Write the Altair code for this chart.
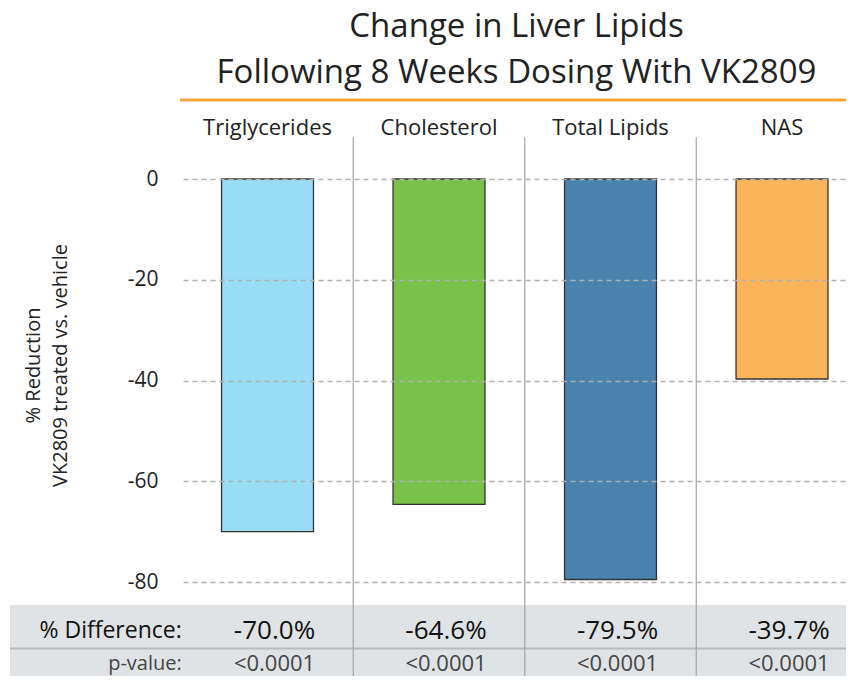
import altair as alt
import pandas as pd

categories = ["Triglycerides", "Cholesterol", "Total Lipids", "NAS"]
values = [-70.0, -64.6, -79.5, -39.7]
diff_labels = ["-70.0%", "-64.6%", "-79.5%", "-39.7%"]
p_values = ["<0.0001", "<0.0001", "<0.0001", "<0.0001"]
bar_colors = ["#98dcf6", "#78c24a", "#4a83ae", "#fcb45a"]
y_ticks = [0, -20, -40, -60, -80]
row_labels = ["% Difference:", "p-value:"]
title_lines = ["Change in Liver Lipids", "Following 8 Weeks Dosing With VK2809"]
y_title = ["% Reduction", "VK2809 treated vs. vehicle"]

FONT = "Open Sans"
HALF = 0.268
X_DOM = [-0.4927, 3.373]
Y_DOM = [-80, 0]
DIFF_Y = -89.8
P_Y = -96.3

df = pd.DataFrame({
    "cat": categories,
    "idx": list(range(len(categories))),
    "value": values,
    "diff": diff_labels,
    "p": p_values,
    "color": bar_colors,
})
df["x1"] = df["idx"] - HALF
df["x2"] = df["idx"] + HALF
df["top"] = 0.0
df["head_y"] = 10.1
df["diff_y"] = DIFF_Y
df["p_y"] = P_Y

xs = alt.Scale(domain=X_DOM, nice=False, zero=False)
ys = alt.Scale(domain=Y_DOM, nice=False, zero=False)
yaxis = alt.Axis(
    values=y_ticks, labelExpr="'' + datum.value", title=y_title,
    grid=True, gridDash=[5, 4], gridColor="#b0b0b0", gridWidth=1.3,
    ticks=False, domain=False, labelPadding=25, labelFontSize=21,
    labelFont=FONT, labelColor="#222222", zindex=1,
    titleFont=FONT, titleFontSize=20, titleFontWeight="normal",
    titleColor="#222222", titleAngle=-90, titleAlign="center",
    titleBaseline="top", titleX=-160, titleY=186, titleLineHeight=27,
)

base = alt.Chart(df)

bars = base.mark_rect(stroke="#333333", strokeWidth=1.3).encode(
    x=alt.X("x1:Q", scale=xs, axis=None), x2="x2:Q",
    y=alt.Y("top:Q", scale=ys, axis=yaxis),
    y2="value:Q",
    color=alt.Color("color:N", scale=None),
)

# table background
tbl = pd.DataFrame({"x": [-1.5015], "x2": [3.6], "y": [-84.57], "y2": [-105.0]})
table_bg = alt.Chart(tbl).mark_rect(color="#dfe3e6").encode(
    x=alt.X("x:Q", scale=xs, axis=None), x2="x2:Q",
    y=alt.Y("y:Q", scale=ys, axis=yaxis), y2="y2:Q",
)
sep = pd.DataFrame({"x": [-1.5015], "x2": [3.6], "y": [-93.2]})
row_sep = alt.Chart(sep).mark_rule(color="#b8bcbf", strokeWidth=2).encode(
    x=alt.X("x:Q", scale=xs, axis=None), x2="x2:Q",
    y=alt.Y("y:Q", scale=ys, axis=yaxis),
)

vsep = pd.DataFrame({"x": [0.5, 1.5, 2.5], "y": [8.3] * 3, "y2": [-105.0] * 3})
col_sep = alt.Chart(vsep).mark_rule(color="#a8a8a8", strokeWidth=1.3).encode(
    x=alt.X("x:Q", scale=xs, axis=None),
    y=alt.Y("y:Q", scale=ys, axis=yaxis), y2="y2:Q",
)

headers = base.mark_text(fontSize=22, font=FONT, color="#222222", baseline="middle").encode(
    x=alt.X("idx:Q", scale=xs, axis=None),
    y=alt.Y("head_y:Q", scale=ys, axis=yaxis),
    text="cat:N",
)
diffs = base.mark_text(fontSize=26, font=FONT, color="#111111", baseline="middle", dx=7).encode(
    x=alt.X("idx:Q", scale=xs, axis=None),
    y=alt.Y("diff_y:Q", scale=ys, axis=yaxis),
    text="diff:N",
)
pvals = base.mark_text(fontSize=22, font=FONT, color="#444444", baseline="middle", dx=7).encode(
    x=alt.X("idx:Q", scale=xs, axis=None),
    y=alt.Y("p_y:Q", scale=ys, axis=yaxis),
    text="p:N",
)
rl = pd.DataFrame({"label": row_labels, "x": [-0.5, -0.5], "y": [DIFF_Y, P_Y],
                   "size": [23, 20], "col": ["#111111", "#444444"]})
row_text = alt.Chart(rl).mark_text(font=FONT, align="right", baseline="middle").encode(
    x=alt.X("x:Q", scale=xs, axis=None),
    y=alt.Y("y:Q", scale=ys, axis=yaxis),
    text="label:N",
    size=alt.Size("size:Q", scale=None, legend=None),
    color=alt.Color("col:N", scale=None),
)

ol = pd.DataFrame({"x": [-0.51], "x2": [3.396], "y": [15.7]})
orange = alt.Chart(ol).mark_rule(color="#f7a634", strokeWidth=3).encode(
    x=alt.X("x:Q", scale=xs, axis=None), x2="x2:Q",
    y=alt.Y("y:Q", scale=ys, axis=yaxis),
)

chart = alt.layer(
    table_bg, row_sep, col_sep, bars, headers, diffs, pvals, row_text, orange
).properties(
    width=663, height=403,
    padding={"left": 175, "top": 171, "right": 0, "bottom": 94},
    autosize=alt.AutoSizeParams(type="none"),
    title=alt.TitleParams(text=title_lines, fontSize=33, font=FONT, fontWeight="normal",
                          color="#222222", anchor="middle", offset=8, lineHeight=46, dx=2),
).configure_view(stroke=None)

chart.save("out.html", embed_options={"renderer": "svg", "actions": False})
